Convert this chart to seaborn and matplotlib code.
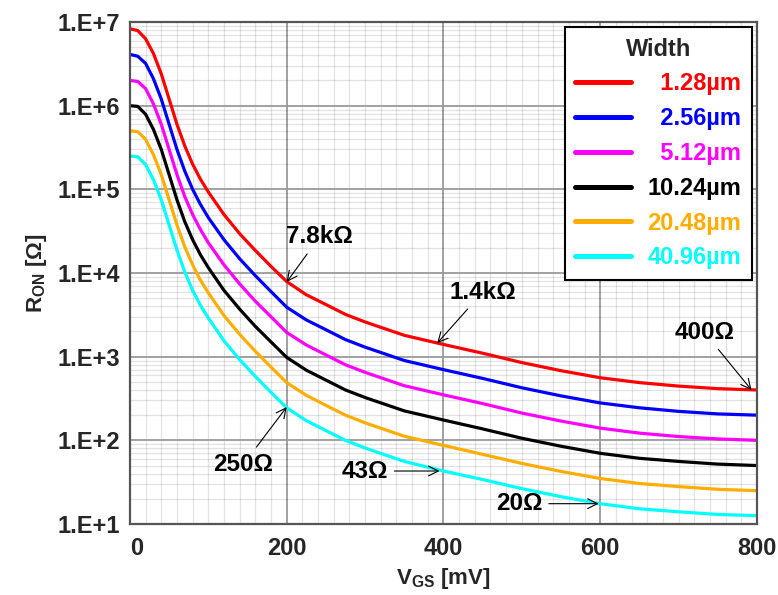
import numpy as np
import pandas as pd
import matplotlib
matplotlib.use("Agg")
import matplotlib.pyplot as plt
import seaborn as sns
from matplotlib.lines import Line2D
from matplotlib.ticker import MultipleLocator, LogLocator, NullFormatter, FixedLocator, FixedFormatter

# ---- data ----
vgs = [0, 10, 20, 30, 40, 50, 60, 70, 80, 90, 100, 120, 140, 160, 180, 200,
       225, 250, 275, 300, 350, 400, 450, 500, 550, 600, 650, 700, 750, 800]

r_1p28 = [8.3e6, 7.9e6, 6.3e6, 4.2e6, 2.4e6, 1.2e6, 6.0e5, 3.3e5, 2.0e5, 1.32e5,
          9.3e4, 5.0e4, 2.95e4, 1.86e4, 1.2e4, 7.9e3, 5.5e3, 4.2e3, 3.2e3, 2.6e3,
          1.8e3, 1.4e3, 1.1e3, 850, 680, 560, 490, 445, 415, 400]
r_2p56 = [4.1e6, 3.9e6, 3.2e6, 2.1e6, 1.2e6, 6.0e5, 3.0e5, 1.65e5, 1.0e5, 6.6e4,
          4.6e4, 2.5e4, 1.48e4, 9.3e3, 6.0e3, 3.9e3, 2.75e3, 2.1e3, 1.6e3, 1.3e3,
          900, 700, 550, 425, 340, 280, 245, 222, 207, 200]
r_5p12 = [2.0e6, 1.95e6, 1.6e6, 1.05e6, 6.0e5, 3.0e5, 1.5e5, 8.2e4, 5.0e4, 3.3e4,
          2.3e4, 1.25e4, 7.4e3, 4.6e3, 3.0e3, 1.95e3, 1.38e3, 1.05e3, 800, 650,
          450, 350, 275, 212, 170, 140, 122, 111, 104, 100]
r_10p24 = [1.0e6, 9.8e5, 7.9e5, 5.2e5, 3.0e5, 1.5e5, 7.5e4, 4.1e4, 2.5e4, 1.65e4,
           1.16e4, 6.2e3, 3.7e3, 2.3e3, 1.5e3, 980, 690, 525, 400, 325,
           225, 175, 137, 106, 85, 70, 61, 56, 52, 50]
r_20p48 = [5.0e5, 4.9e5, 3.95e5, 2.6e5, 1.5e5, 7.5e4, 3.75e4, 2.05e4, 1.25e4, 8.2e3,
           5.8e3, 3.1e3, 1.85e3, 1.16e3, 750, 490, 345, 262, 200, 162,
           112, 87, 68, 53, 42.5, 35, 30.5, 28, 26, 25]
r_40p96 = [2.5e5, 2.45e5, 1.98e5, 1.3e5, 7.5e4, 3.75e4, 1.88e4, 1.03e4, 6.2e3, 4.1e3,
           2.9e3, 1.55e3, 920, 580, 375, 245, 172, 131, 100, 81,
           56, 43, 34, 26.5, 21.2, 17.5, 15.2, 14, 13, 12.6]

widths = ["1.28µm", "2.56µm", "5.12µm", "10.24µm", "20.48µm", "40.96µm"]
series = [r_1p28, r_2p56, r_5p12, r_10p24, r_20p48, r_40p96]
colors = ["#ff0000", "#0000ff", "#ff00ff", "#000000", "#ffad00", "#00ffff"]

y_ticks = [1e1, 1e2, 1e3, 1e4, 1e5, 1e6, 1e7]
y_ticklabels = ["1.E+1", "1.E+2", "1.E+3", "1.E+4", "1.E+5", "1.E+6", "1.E+7"]
x_ticks = [0, 200, 400, 600, 800]

# annotations: (text, point x, point y, text x, text y)
notes = [("7.8kΩ", 200, 7.8e3, 242, 2.7e4),
         ("1.4kΩ", 392, 1.45e3, 450, 5.9e3),
         ("400Ω", 793, 400, 733, 1.95e3),
         ("250Ω", 200, 250, 145, 52),
         ("43Ω", 395, 43, 300, 43),
         ("20Ω", 598, 17.5, 497, 17.5)]

df = pd.concat([pd.DataFrame({"vgs": vgs, "r": s, "width": w})
                for s, w in zip(series, widths)], ignore_index=True)

# ---- style ----
sns.set_style("white")
plt.rcParams["font.family"] = ["Liberation Sans", "DejaVu Sans"]
plt.rcParams["font.weight"] = "bold"
plt.rcParams["mathtext.fontset"] = "custom"
plt.rcParams["mathtext.rm"] = "Liberation Sans:bold"
plt.rcParams["mathtext.bf"] = "Liberation Sans:bold"
plt.rcParams["mathtext.it"] = "Liberation Sans:bold"
plt.rcParams["mathtext.default"] = "rm"

fig = plt.figure(figsize=(7.78, 5.95), dpi=100)
ax = fig.add_axes([0.167, 0.1193, 0.806, 0.8437])

sns.lineplot(data=df, x="vgs", y="r", hue="width", hue_order=widths,
             palette=colors, linewidth=2.3, ax=ax, legend=False,
             estimator=None, sort=False)

ax.set_yscale("log")
ax.set_xlim(0, 800)
ax.set_ylim(1e1, 1e7)

ax.yaxis.set_major_locator(FixedLocator(y_ticks))
ax.yaxis.set_major_formatter(FixedFormatter(y_ticklabels))
ax.yaxis.set_minor_locator(LogLocator(base=10, subs=np.arange(2, 10)))
ax.yaxis.set_minor_formatter(NullFormatter())
ax.xaxis.set_major_locator(FixedLocator(x_ticks))
ax.xaxis.set_minor_locator(MultipleLocator(20))

ax.set_axisbelow(True)
ax.grid(which="major", color="#9a9a9a", linewidth=1.3)
ax.grid(which="minor", color="black", alpha=0.11, linewidth=0.9)

for sp in ax.spines.values():
    sp.set_color("#555555")
    sp.set_linewidth(1.6)

ax.tick_params(which="both", direction="out", color="#555555")
ax.tick_params(which="major", length=4, width=1, labelsize=17)
ax.tick_params(axis="x", which="major", pad=5)
ax.tick_params(axis="y", which="major", pad=3)
ax.tick_params(which="minor", length=3, width=0.8)
for lab in ax.get_xticklabels():
    if lab.get_text() == "0":
        lab.set_horizontalalignment("left")

ax.set_xlabel(r"V$_{\rm GS}$ [mV]", fontsize=16, fontweight="bold", labelpad=5)
ax.set_ylabel(r"R$_{\rm ON}$ [Ω]", fontsize=16, fontweight="bold", labelpad=6)

# legend
handles = [Line2D([0], [0], color=c, lw=3.6) for c in colors]
labels = ["  " + w if len(w) < 7 else w for w in widths]
leg = ax.legend(handles, labels, title="Width", loc="upper right",
                bbox_to_anchor=(0.992, 0.99), borderaxespad=0,
                frameon=True, fancybox=False, framealpha=1,
                edgecolor="black", handlelength=2.35, handletextpad=0.7,
                labelspacing=0.5, borderpad=0.45,
                prop={"size": 17, "weight": "bold"},
                title_fontproperties={"size": 17, "weight": "bold"})
leg.get_frame().set_linewidth(1.5)
for t, c in zip(leg.get_texts(), colors):
    t.set_color(c)

for txt, px, py, tx, ty in notes:
    ax.annotate(txt, xy=(px, py), xytext=(tx, ty), ha="center", va="center",
                fontsize=17.5, fontweight="bold", color="black",
                arrowprops=dict(arrowstyle="->", color="black", lw=0.8,
                                shrinkA=2, shrinkB=0))

fig.savefig("out.png", dpi=100)
